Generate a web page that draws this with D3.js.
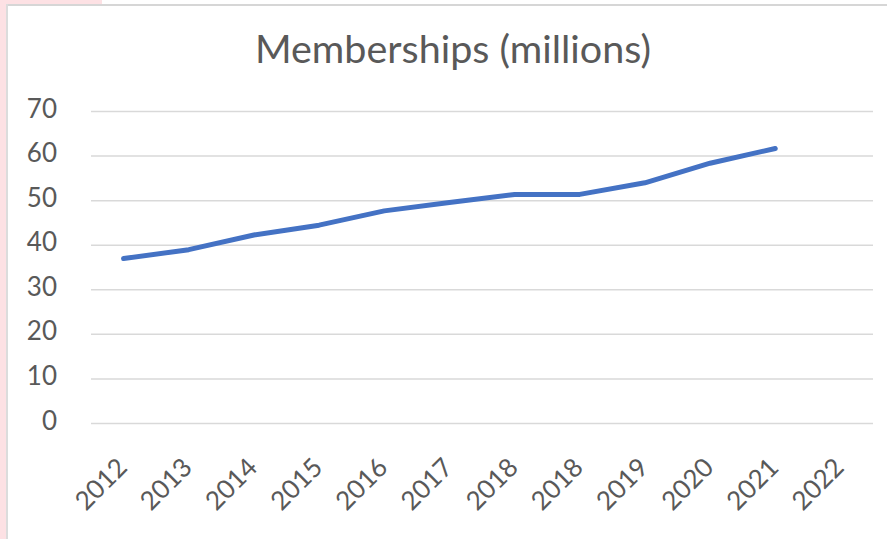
<!DOCTYPE html>
<html>
<head>
<meta charset="utf-8">
<script src="https://cdn.jsdelivr.net/npm/d3@7"></script>
<style>
    body { margin: 0; background: #fff; }
    svg { display: block; }
    text { font-family: Lato, "Open Sans", sans-serif; fill: #595959; }
</style>
</head>
<body>
<div id="chart"></div>
<script>
const years = ["2012", "2013", "2014", "2015", "2016", "2017", "2018", "2018", "2019", "2020", "2021", "2022"];
const memberships = [37, 39, 42.3, 44.5, 47.7, 49.6, 51.4, 51.4, 54.0, 58.4, 61.7, null];
const yTicks = [0, 10, 20, 30, 40, 50, 60, 70];
const title = "Memberships (millions)";

const width = 887, height = 539;
const margin = { top: 111.5, right: 14, bottom: 115.5, left: 91 };

const svg = d3.select("#chart")
    .append("svg")
    .attr("width", width)
    .attr("height", height);

// page background: pink strips, then the chart box with its grey border
svg.append("rect").attr("x", 0).attr("y", 0).attr("width", 7).attr("height", height).attr("fill", "#fde1e4");
svg.append("rect").attr("x", 0).attr("y", 0).attr("width", 102).attr("height", 5).attr("fill", "#fde1e4");
svg.append("rect").attr("x", 7).attr("y", 5).attr("width", width - 7).attr("height", height - 5)
    .attr("fill", "#fff");
svg.append("line").attr("x1", 7).attr("x2", width).attr("y1", 5).attr("y2", 5)
    .attr("stroke", "#d6d6d6").attr("stroke-width", 2);
svg.append("line").attr("x1", 7).attr("x2", 7).attr("y1", 4).attr("y2", height)
    .attr("stroke", "#dcdcdc").attr("stroke-width", 2);

const x = d3.scaleBand()
    .domain(d3.range(years.length))
    .range([margin.left, width - margin.right]);

const y = d3.scaleLinear()
    .domain([0, 70])
    .range([height - margin.bottom, margin.top]);

// title
svg.append("text")
    .attr("x", 453)
    .attr("y", 63)
    .attr("text-anchor", "middle")
    .style("font-size", "39.5px")
    .text(title);

// gridlines
svg.append("g")
    .selectAll("line")
    .data(yTicks)
    .enter().append("line")
    .attr("x1", margin.left)
    .attr("x2", width - margin.right)
    .attr("y1", d => y(d))
    .attr("y2", d => y(d))
    .attr("stroke", "#d9d9d9")
    .attr("stroke-width", 1.5);

// y labels
svg.append("g")
    .selectAll("text")
    .data(yTicks)
    .enter().append("text")
    .attr("x", 57)
    .attr("y", d => y(d) + 6)
    .attr("text-anchor", "end")
    .style("font-size", "26px")
    .text(d => d);

// x labels
svg.append("g")
    .selectAll("text")
    .data(years)
    .enter().append("text")
    .attr("transform", (d, i) => `translate(${x(i) + x.bandwidth() / 2 + 5},${469}) rotate(-45)`)
    .attr("text-anchor", "end")
    .style("font-size", "26px")
    .text(d => d);

// line
const line = d3.line()
    .defined(d => d != null)
    .x((d, i) => x(i) + x.bandwidth() / 2)
    .y(d => y(d));

svg.append("path")
    .datum(memberships)
    .attr("d", line)
    .attr("fill", "none")
    .attr("stroke", "#4472c4")
    .attr("stroke-width", 5)
    .attr("stroke-linejoin", "round")
    .attr("stroke-linecap", "round");
</script>
</body>
</html>
